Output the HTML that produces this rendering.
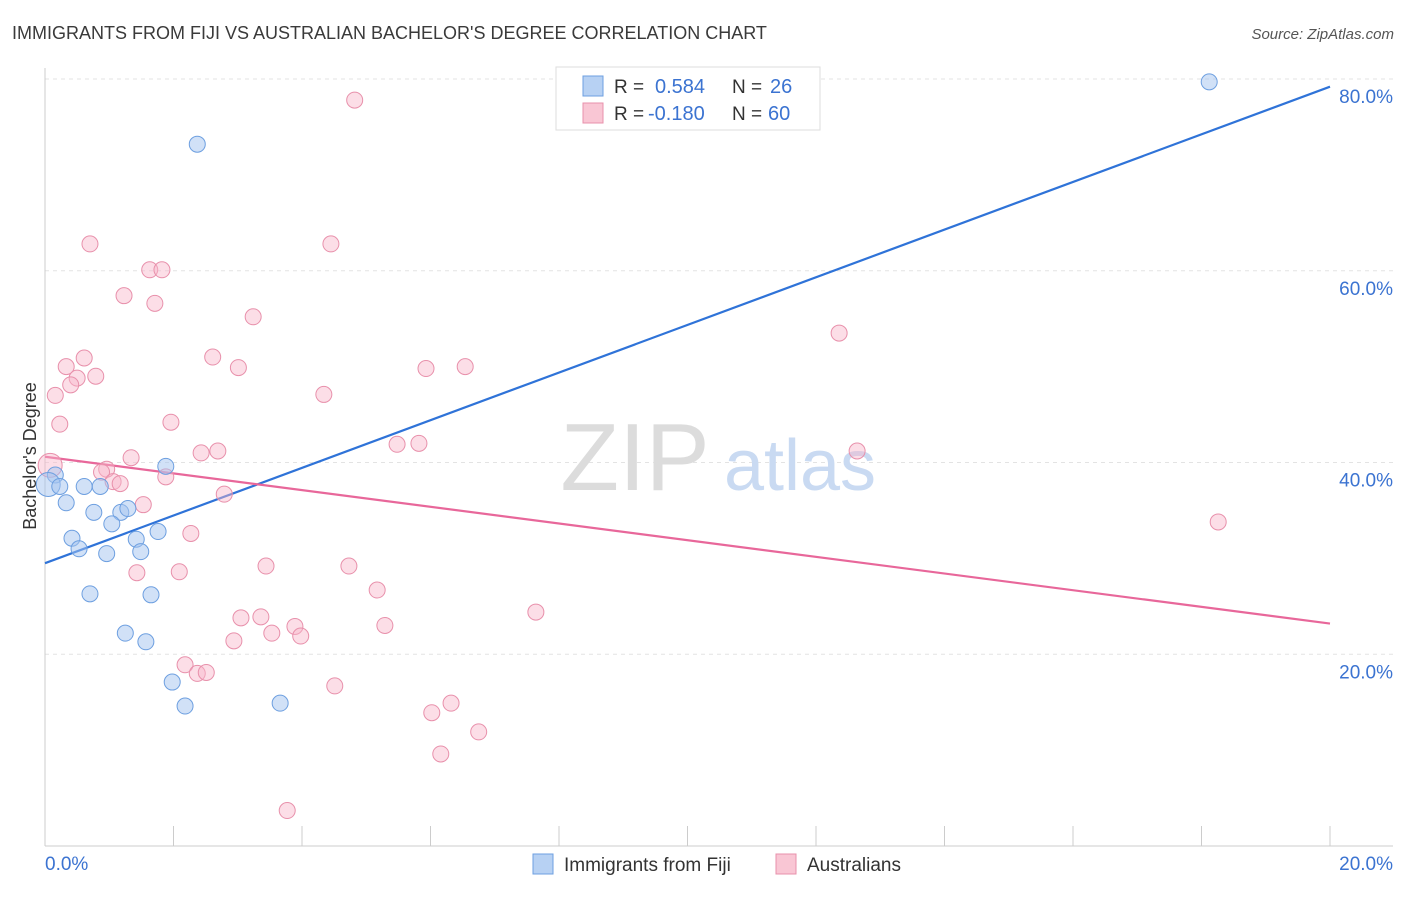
<!DOCTYPE html>
<html><head><meta charset="utf-8">
<style>
body{margin:0;background:#fff;font-family:"Liberation Sans",sans-serif;}
svg text{font-family:"Liberation Sans",sans-serif;}
</style></head>
<body>
<svg id="chart" width="1406" height="892" xmlns="http://www.w3.org/2000/svg">
<text x="12" y="39" font-size="18" fill="#3a3a3a">IMMIGRANTS FROM FIJI VS AUSTRALIAN BACHELOR'S DEGREE CORRELATION CHART</text>
<text x="1394" y="39" font-size="15" fill="#555" text-anchor="end" font-style="italic">Source: ZipAtlas.com</text>
<g id="grid"></g>
<g id="watermark">
<text x="635" y="490" font-size="96" fill="#dcdcdc" text-anchor="middle" font-family="Liberation Serif,serif">ZIP</text>
<text x="800" y="490" font-size="72" fill="#c9daf2" text-anchor="middle">atlas</text>
</g>
<g id="axes"></g>
<g id="lines"></g>
<g id="points"></g>
<text x="36" y="456" font-size="18" fill="#333" text-anchor="middle" transform="rotate(-90 36 456)">Bachelor's Degree</text>
<g>
<rect x="556" y="67" width="264" height="63" fill="#fff" stroke="#ddd"/>
<rect x="583" y="76" width="20" height="20" fill="#b7d1f3" stroke="#6d9fe0"/>
<text x="614" y="93" font-size="19" fill="#333">R = </text><text x="655" y="93" font-size="20" fill="#3b73d1">0.584</text>
<text x="732" y="93" font-size="19" fill="#333">N = </text><text x="770" y="93" font-size="20" fill="#3b73d1">26</text>
<rect x="583" y="103" width="20" height="20" fill="#f9c6d4" stroke="#e890ab"/>
<text x="614" y="120" font-size="19" fill="#333">R = </text><text x="648" y="120" font-size="20" fill="#3b73d1">-0.180</text>
<text x="732" y="120" font-size="19" fill="#333">N = </text><text x="768" y="120" font-size="20" fill="#3b73d1">60</text>
</g>
<g>
<rect x="533" y="854" width="20" height="20" fill="#b7d1f3" stroke="#6d9fe0"/>
<text x="564" y="871" font-size="19" fill="#333">Immigrants from Fiji</text>
<rect x="776" y="854" width="20" height="20" fill="#f9c6d4" stroke="#e890ab"/>
<text x="807" y="871" font-size="19" fill="#333">Australians</text>
</g>
</svg>
<script>
const yTicks=[20,40,60,80];
const yTickLabels=["20.0%","40.0%","60.0%","80.0%"];
const xTickCount=10;
const fijiX=[18.12,2.37,1.88,0.16,0.05,0.23,0.61,0.86,0.33,0.76,1.18,1.29,1.04,1.76,0.42,1.42,0.53,0.96,1.49,0.70,1.65,1.25,1.57,1.98,2.18,3.66];
const fijiY=[79.7,73.2,39.6,38.7,37.7,37.5,37.5,37.5,35.8,34.8,34.8,35.2,33.6,32.8,32.1,32.0,31.0,30.5,30.7,26.3,26.2,22.2,21.3,17.1,14.6,14.9];
const ausX=[4.82,0.70,4.45,1.63,1.82,1.23,1.71,3.24,12.36,2.61,0.61,0.33,3.01,5.93,6.54,0.79,0.50,0.40,4.34,0.16,0.23,1.96,5.48,5.82,2.43,2.69,12.64,1.34,0.08,0.96,0.88,1.88,1.06,1.17,2.79,1.53,18.26,2.27,3.44,4.73,1.43,2.09,5.17,7.64,3.05,3.36,3.89,5.29,3.53,3.98,2.94,2.18,2.37,2.51,4.51,6.32,6.02,6.75,6.16,3.77];
const ausY=[77.8,62.8,62.8,60.1,60.1,57.4,56.6,55.2,53.5,51.0,50.9,50.0,49.9,49.8,50.0,49.0,48.8,48.1,47.1,47.0,44.0,44.2,41.9,42.0,41.0,41.2,41.2,40.5,39.7,39.3,39.0,38.5,38.0,37.8,36.7,35.6,33.8,32.6,29.2,29.2,28.5,28.6,26.7,24.4,23.8,23.9,22.9,23.0,22.2,21.9,21.4,18.9,18.0,18.1,16.7,14.9,13.9,11.9,9.6,3.7];
const fijiTrend=[29.5,79.2];
const ausTrend=[40.6,23.2];
const xMin=0,xMax=20;
const NS="http://www.w3.org/2000/svg";
function sx(v){return 45+(v-xMin)/(xMax-xMin)*1285;}
function sy(v){return 846-v*9.5875;}
function mk(tag,attrs,parent){const e=document.createElementNS(NS,tag);for(const k in attrs)e.setAttribute(k,attrs[k]);parent.appendChild(e);return e;}
const gridG=document.getElementById('grid'),axesG=document.getElementById('axes');
yTicks.forEach((t,i)=>{
 const l=mk('line',{x1:45,x2:1393,y1:sy(t),y2:sy(t),stroke:'#e3e3e3','stroke-dasharray':'4,4'},gridG);
 
 
 const tx=mk('text',{x:1393,y:sy(t)+24,'font-size':19,fill:'#3b73d1','text-anchor':'end'},axesG);
 tx.textContent=yTickLabels[i];
 
 
});
const topGrid=mk('line',{x1:45,x2:1393,y1:79,y2:79,stroke:'#e3e3e3','stroke-dasharray':'4,4'},gridG);


const ya=mk('line',{x1:45,x2:45,y1:68,y2:846,stroke:'#ccc'},axesG);


const xa=mk('line',{x1:45,x2:1393,y1:846,y2:846,stroke:'#ccc'},axesG);


for(let i=1;i<=xTickCount;i++){
 const v=xMin+i*(xMax-xMin)/xTickCount;
 const t=mk('line',{x1:sx(v),x2:sx(v),y1:826,y2:846,stroke:'#ccc'},axesG);
 
 
}
const xl0=mk('text',{x:45,y:870,'font-size':19,fill:'#3b73d1'},axesG);xl0.textContent='0.0%';


const xl1=mk('text',{x:1393,y:870,'font-size':19,fill:'#3b73d1','text-anchor':'end'},axesG);xl1.textContent='20.0%';


const ptsG=document.getElementById('points');
function drawSeries(xs,ys,fill,stroke,name){
 xs.forEach((x,i)=>{
  const big=x<0.1;
  const c=mk('circle',{cx:sx(x),cy:sy(ys[i]),r:big?12:8,fill:fill,stroke:stroke,'stroke-width':1},ptsG);
  
  
 });
}
drawSeries(ausX,ausY,'rgba(248,182,202,0.45)','#e890ab','australians');
drawSeries(fijiX,fijiY,'rgba(163,196,240,0.5)','#6d9fe0','fiji');
const linesG=document.getElementById('lines');
const lf=mk('line',{x1:sx(xMin),x2:sx(xMax),y1:sy(fijiTrend[0]),y2:sy(fijiTrend[1]),stroke:'#2f73d8','stroke-width':2.2},linesG);


const la=mk('line',{x1:sx(xMin),x2:sx(xMax),y1:sy(ausTrend[0]),y2:sy(ausTrend[1]),stroke:'#e8679a','stroke-width':2.2},linesG);


</script>
</body></html>
